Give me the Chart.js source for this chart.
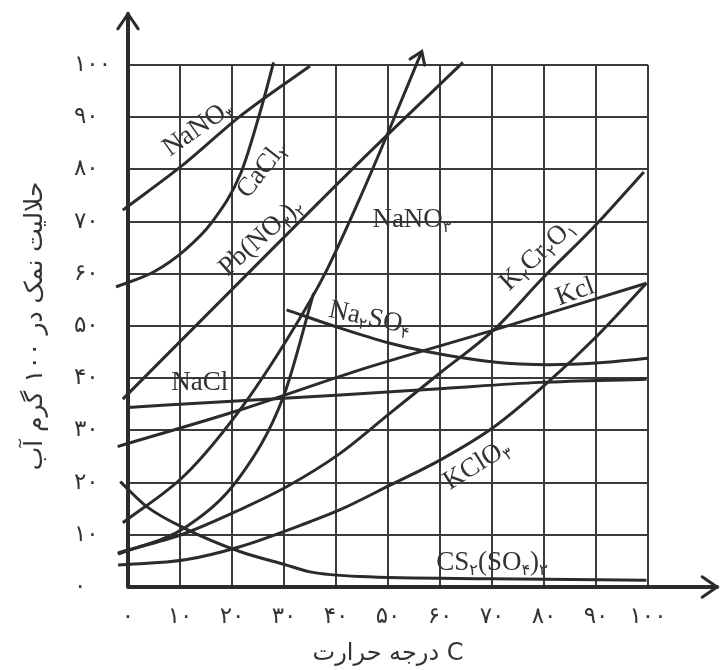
<!DOCTYPE html>
<html>
<head>
<meta charset="utf-8">
<script src="https://cdn.jsdelivr.net/npm/chart.js@4.4.1/dist/chart.umd.min.js"></script>
<style>
  html, body { margin: 0; padding: 0; background: #fff; }
  #wrap { width: 720px; height: 670px; }
</style>
</head>
<body>
<div id="wrap"><canvas id="sol-chart" width="720" height="670"></canvas></div>
<script>
// solubility (g per 100 g water) vs temperature
const tickLabels = ['۰', '۱۰', '۲۰', '۳۰', '۴۰', '۵۰', '۶۰', '۷۰', '۸۰', '۹۰', '۱۰۰'];

const nano3Top = [[-1, 72.2], [11, 81.2], [21.7, 90.3], [35, 99.8]];
const cacl2 = [[-2.3, 57.5], [5, 60.4], [11, 64.6], [16, 69.7], [21.7, 79.3], [25.7, 92], [28, 100.5]];
const pbNO32 = [[-1, 36], [21.5, 58.5], [44.6, 81.5], [64.4, 100.5]];
const kno3 = [[-1, 12.3], [11, 21.5], [21.5, 33.9], [30, 46.5], [37.6, 59.5], [44.6, 74.5], [49.7, 86.3], [56.5, 102.6]];
const na2so4Rise = [[-1.9, 6.3], [11.3, 11.6], [21.5, 21.1], [29.9, 36.5], [35.7, 56.3]];
const na2so4Fall = [[30.5, 53.1], [40.8, 49.6], [50.4, 46.7], [57.4, 45.1], [70.3, 43.1], [81, 42.6], [90, 42.9], [100, 43.8]];
const nacl = [[0, 34.4], [20, 35.6], [40.8, 36.8], [60, 38], [79.2, 39.2], [99.7, 39.8]];
const kcl = [[-2, 26.9], [21.5, 33.9], [44.6, 41.6], [70.3, 49.2], [99.7, 58.2]];
const k2cr2o7 = [[-2, 6.5], [11, 10.3], [21.5, 14.8], [30.5, 19.2], [40.8, 25.6], [50.4, 33.3], [60, 41], [70.3, 49.2], [79.6, 59], [90.1, 69.5], [99.2, 79.5]];
const kclo3 = [[-1.9, 4.2], [11, 5.2], [21.5, 7.7], [35, 12.5], [40.8, 14.8], [50.4, 19.5], [60, 24.3], [70.3, 30.6], [80.5, 39], [90.1, 48], [99.7, 58.2]];
const cs2so43 = [[-1.5, 20.2], [3.6, 15.4], [11, 11.2], [21.5, 6.8], [30.5, 4.2], [35, 2.9], [44.6, 2.0], [70, 1.6], [99.7, 1.3]];

const curveNames = ['NaNO۳', 'CaCl۲', 'Pb(NO۳)۲', 'NaNO۳', 'Na۲SO۴', 'K۲Cr۲O۱', 'Kcl', 'NaCl', 'KClO۳', 'CS۲(SO۴)۳'];
// where each name sits (data coords) and its slant in degrees
const labelPlacement = [
    { x: 13.5, y: 87.9, rot: -35 },
    { x: 25.8, y: 79.9, rot: -52 },
    { x: 25.6, y: 67.0, rot: -42 },
    { x: 54.6, y: 70.3, rot: 0 },
    { x: 46.5, y: 51.5, rot: 12 },
    { x: 78.8, y: 63.6, rot: -43 },
    { x: 86, y: 56.5, rot: -20 },
    { x: 13.8, y: 39.1, rot: 0 },
    { x: 67.1, y: 23.4, rot: -32 },
    { x: 70, y: 4.6, rot: 0 }
];

const ink = '#2b2b2b';

function toPoints(arr) {
    return arr.map(p => ({ x: p[0], y: p[1] }));
}

function curve(arr) {
    return {
        data: toPoints(arr),
        showLine: true,
        borderColor: ink,
        borderWidth: 3,
        pointRadius: 0,
        cubicInterpolationMode: 'monotone',
        clip: false
    };
}

function arrowHead(ctx, x, y, ang, size) {
    ctx.beginPath();
    ctx.moveTo(x - size * Math.cos(ang - 0.6), y - size * Math.sin(ang - 0.6));
    ctx.lineTo(x, y);
    ctx.lineTo(x - size * Math.cos(ang + 0.6), y - size * Math.sin(ang + 0.6));
    ctx.stroke();
}

// persian digits in a formula are drawn as subscripts
function drawFormula(ctx, text, x, y, rot) {
    const big = '27px "Liberation Serif", serif';
    const small = '16px "Liberation Serif", "DejaVu Sans", serif';
    const parts = [];
    let total = 0;
    for (const ch of text) {
        const sub = /[۰-۹]/.test(ch);
        ctx.font = sub ? small : big;
        const w = ctx.measureText(ch).width;
        parts.push({ ch, sub, w });
        total += w;
    }
    ctx.save();
    ctx.translate(x, y);
    ctx.rotate(rot * Math.PI / 180);
    ctx.textBaseline = 'middle';
    ctx.textAlign = 'left';
    let cx = -total / 2;
    for (const p of parts) {
        ctx.font = p.sub ? small : big;
        ctx.fillText(p.ch, cx, p.sub ? 8 : 0);
        cx += p.w;
    }
    ctx.restore();
}

const decorations = {
    id: 'decorations',
    afterDatasetsDraw(chart) {
        const { ctx, chartArea: a, scales } = chart;
        ctx.save();
        ctx.strokeStyle = ink;
        ctx.fillStyle = '#333';
        ctx.lineCap = 'round';

        // axes with open arrow heads
        ctx.lineWidth = 4;
        ctx.beginPath();
        ctx.moveTo(a.left, a.bottom);
        ctx.lineTo(a.left, 14);
        ctx.moveTo(a.left, a.bottom);
        ctx.lineTo(chart.width - 3, a.bottom);
        ctx.stroke();
        ctx.lineWidth = 3;
        arrowHead(ctx, a.left, 14, -Math.PI / 2, 18);
        arrowHead(ctx, chart.width - 3, a.bottom, 0, 18);

        // arrow on the end of the steep curve
        const pts = chart.getDatasetMeta(3).data;
        const p1 = pts[pts.length - 2], p2 = pts[pts.length - 1];
        arrowHead(ctx, p2.x, p2.y, Math.atan2(p2.y - p1.y, p2.x - p1.x), 14);

        curveNames.forEach((name, i) => {
            const pl = labelPlacement[i];
            drawFormula(ctx, name, scales.x.getPixelForValue(pl.x), scales.y.getPixelForValue(pl.y), pl.rot);
        });
        ctx.restore();
    }
};

const ctx = document.getElementById('sol-chart').getContext('2d');
new Chart(ctx, {
    type: 'scatter',
    data: {
        datasets: [
            curve(nano3Top),
            curve(cacl2),
            curve(pbNO32),
            curve(kno3),
            curve(na2so4Rise),
            curve(na2so4Fall),
            curve(nacl),
            curve(kcl),
            curve(k2cr2o7),
            curve(kclo3),
            curve(cs2so43)
        ]
    },
    options: {
        responsive: false,
        animation: false,
        layout: { padding: { top: 65, right: 72, left: 74, bottom: 0 } },
        plugins: {
            legend: { display: false },
            tooltip: { enabled: false }
        },
        scales: {
            x: {
                type: 'linear',
                min: 0,
                max: 100,
                afterFit: s => { s.height = 83; },
                ticks: {
                    stepSize: 10,
                    padding: 16,
                    color: '#333',
                    font: { family: '"DejaVu Sans"', size: 23 },
                    callback: (v, i) => tickLabels[i]
                },
                grid: { color: '#3a3a3a', lineWidth: 2, drawTicks: false },
                border: { display: false },
                title: {
                    display: true,
                    text: 'درجه حرارت C',
                    color: '#333',
                    font: { family: '"DejaVu Sans"', size: 24 },
                    padding: { top: 0, bottom: 2 }
                }
            },
            y: {
                type: 'linear',
                min: 0,
                max: 100,
                afterFit: s => { s.width = 54; },
                ticks: {
                    stepSize: 10,
                    crossAlign: 'far',
                    color: '#333',
                    font: { family: '"DejaVu Sans"', size: 23 },
                    callback: (v, i) => tickLabels[i]
                },
                grid: { color: '#3a3a3a', lineWidth: 2, drawTicks: false },
                border: { display: false },
                title: {
                    display: true,
                    text: 'حلالیت نمک در ۱۰۰ گرم آب',
                    color: '#333',
                    font: { family: '"DejaVu Sans"', size: 25 },
                    padding: { top: -54, bottom: 0 }
                }
            }
        }
    },
    plugins: [decorations]
});
</script>
</body>
</html>
